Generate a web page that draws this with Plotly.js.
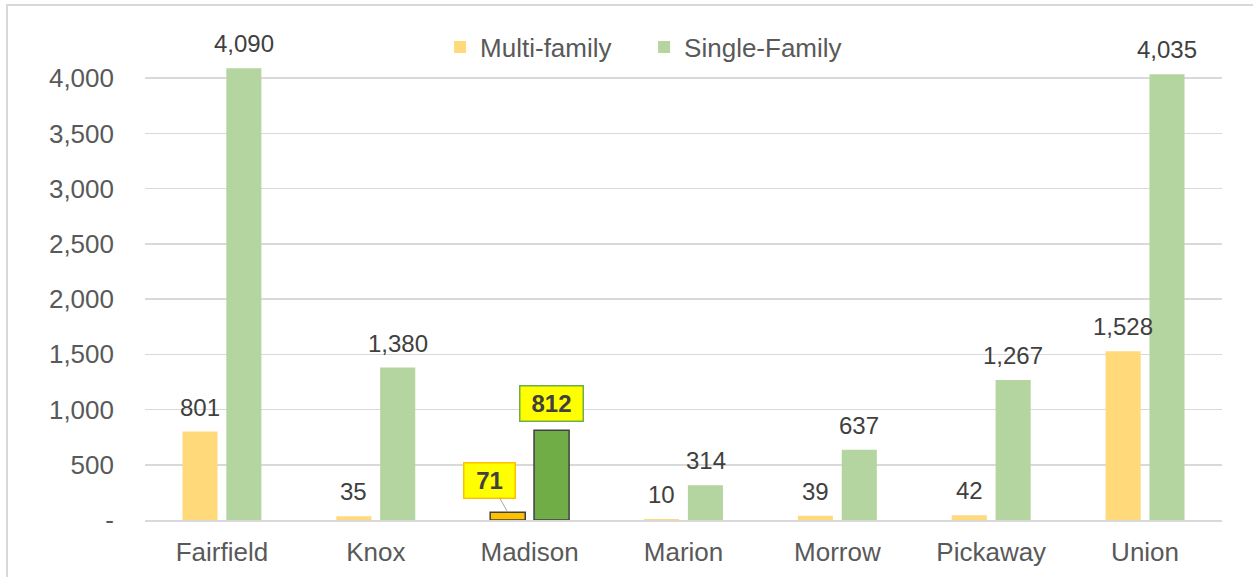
<!DOCTYPE html>
<html>
<head>
<meta charset="utf-8">
<script src="https://cdn.plot.ly/plotly-3.0.1.min.js"></script>
<style>
  html, body { margin: 0; padding: 0; background: #fff; }
  #wrap { position: relative; width: 1253px; height: 577px; overflow: hidden; }
  #chart { width: 1253px; height: 577px; }
  #frame { position: absolute; left: 6px; top: 4px; width: 1400px; height: 700px;
           border-left: 2px solid #d9d9d9; border-top: 2px solid #d9d9d9; pointer-events: none; }
</style>
</head>
<body>
<div id="wrap"><div id="chart"></div><div id="frame"></div></div>
<script>
const categories = ["Fairfield", "Knox", "Madison", "Marion", "Morrow", "Pickaway", "Union"];
const multiFamily = [801, 35, 71, 10, 39, 42, 1528];
const singleFamily = [4090, 1380, 812, 314, 637, 1267, 4035];
const highlight = "Madison";
const yTickVals = [0, 500, 1000, 1500, 2000, 2500, 3000, 3500, 4000];
const yTickText = ["-", "500", "1,000", "1,500", "2,000", "2,500", "3,000", "3,500", "4,000"];

const fmt = v => v.toLocaleString("en-US");
const isHi = c => c === highlight;
const FONT = "Liberation Sans, Arial, sans-serif";
const OFF = 22; // px half-offset of grouped bars

function barTrace(name, vals, normal, hi) {
  return {
    type: "bar", name: name, x: categories, y: vals,
    marker: {
      color: categories.map(c => isHi(c) ? hi : normal),
      line: { color: categories.map(c => isHi(c) ? "#404040" : "rgba(0,0,0,0)"),
              width: categories.map(c => isHi(c) ? 1.5 : 0) }
    },
    hoverinfo: "x+y"
  };
}
const multiTrace = barTrace("Multi-family", multiFamily, "#FFD97A", "#FFC000");
const singleTrace = barTrace("Single-Family", singleFamily, "#B4D59F", "#70AD47");

const annotations = [];
function addLabels(vals, shift) {
  categories.forEach((c, i) => {
    if (isHi(c)) return;
    annotations.push({
      x: c, y: vals[i], xref: "x", yref: "y", xshift: shift,
      yanchor: "bottom", yshift: 9, showarrow: false,
      text: fmt(vals[i]),
      font: { family: FONT, size: 24, color: "#404040" }
    });
  });
}
addLabels(multiFamily, -OFF);
addLabels(singleFamily, OFF);

const hiIdx = categories.indexOf(highlight);
annotations.push(
  {
    x: highlight, y: multiFamily[hiIdx], xref: "x", yref: "y", xshift: -OFF,
    text: "<b>" + fmt(multiFamily[hiIdx]) + "</b>",
    showarrow: true, arrowhead: 0, arrowwidth: 1, arrowcolor: "#A6A6A6",
    ax: -18, ay: -32, standoff: 0,
    bgcolor: "#FFFF00", bordercolor: "#FFC000", borderwidth: 1.5, borderpad: 2,
    width: 46, height: 30,
    font: { family: FONT, size: 24, color: "#404040" }
  },
  {
    x: highlight, y: singleFamily[hiIdx], xref: "x", yref: "y", xshift: OFF,
    yanchor: "bottom", yshift: 8,
    text: "<b>" + fmt(singleFamily[hiIdx]) + "</b>",
    showarrow: false,
    bgcolor: "#FFFF00", bordercolor: "#70AD47", borderwidth: 1.5, borderpad: 2,
    width: 58, height: 30,
    font: { family: FONT, size: 24, color: "#404040" }
  }
);

const layout = {
  width: 1253, height: 577,
  margin: { l: 145, r: 31, t: 34, b: 57 },
  paper_bgcolor: "#ffffff", plot_bgcolor: "#ffffff",
  font: { family: FONT, color: "#595959", size: 24 },
  barmode: "group", bargap: 0.43, bargroupgap: 0.2,
  showlegend: true,
  legend: {
    orientation: "h", x: 0.274, xanchor: "left", y: 0.973, yanchor: "middle",
    font: { family: FONT, size: 26, color: "#595959" },
    entrywidth: 159, entrywidthmode: "pixels",
    bgcolor: "rgba(0,0,0,0)"
  },
  xaxis: {
    type: "category", showgrid: false, showline: true, linecolor: "#d9d9d9", linewidth: 2,
    ticks: "", ticklabelstandoff: 8,
    tickfont: { family: FONT, size: 26, color: "#595959" }
  },
  yaxis: {
    range: [0, 4400], tickvals: yTickVals, ticktext: yTickText,
    showgrid: true, gridcolor: "#d9d9d9", gridwidth: 1.5,
    zeroline: false, showline: false, ticks: "", ticklabelstandoff: 30,
    tickfont: { family: FONT, size: 26, color: "#595959" }
  },
  annotations: annotations
};

Plotly.newPlot("chart", [multiTrace, singleTrace], layout, { displayModeBar: false, staticPlot: true });
</script>
</body>
</html>
